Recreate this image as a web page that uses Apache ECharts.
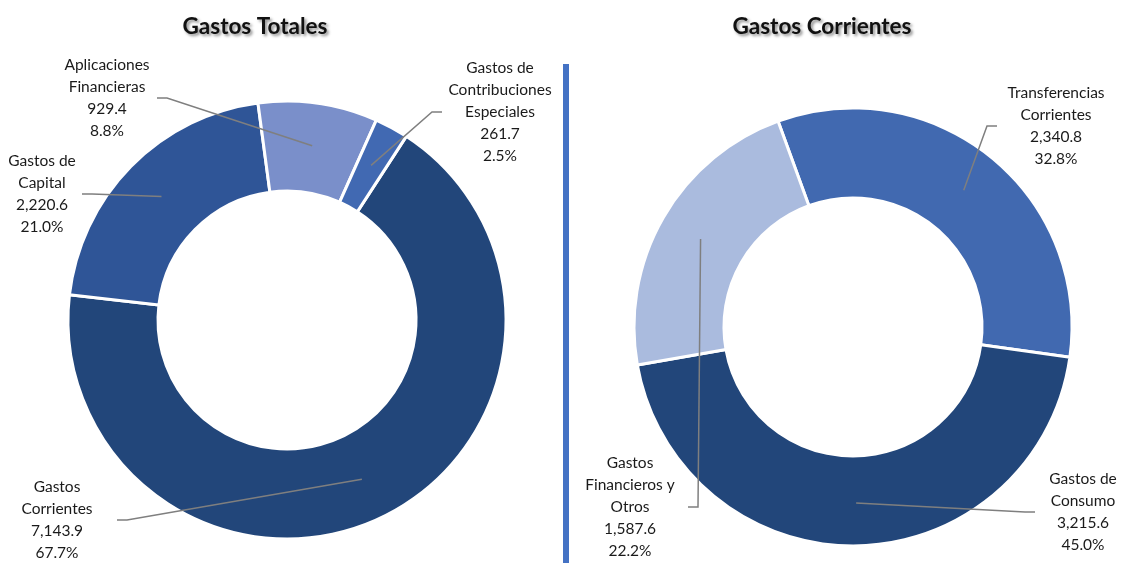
<!DOCTYPE html>
<html>
<head>
<meta charset="utf-8">
<script src="https://cdn.jsdelivr.net/npm/echarts@6/dist/echarts.min.js"></script>
<style>
html, body { margin: 0; padding: 0; background: #fff; }
#container { width: 1121px; height: 563px; }
</style>
</head>
<body>
<div id="container"></div>
<script>
// data
var totalNames = ['Gastos\nCorrientes', 'Gastos de\nCapital', 'Aplicaciones\nFinancieras', 'Gastos de\nContribuciones\nEspeciales'];
var totalValues = [7143.9, 2220.6, 929.4, 261.7];
var corrNames = ['Transferencias\nCorrientes', 'Gastos de\nConsumo', 'Gastos\nFinancieros y\nOtros'];
var corrValues = [2340.8, 3215.6, 1587.6];
var titles = ['Gastos Totales', 'Gastos Corrientes'];

// styles
var totalColors = ['#22467a', '#2f5597', '#7a8fca', '#4169b2'];
var corrColors = ['#4169b0', '#22467a', '#aabbde'];
// label centre x, centre y, offset of leader end from centre
var totalLabelPos = [[57, 520, 60], [42, 194, 40], [107, 98, 50], [500, 112, -58]];
var corrLabelPos = [[1056, 126, -59], [1083, 512, -48], [630, 507, 58]];

var font = 'Lato';
var dom = document.getElementById('container');
var chart = echarts.init(dom, null, { renderer: 'canvas' });

function toData(names, values, colors) {
    return names.map(function (n, i) {
        return { name: n, value: values[i], itemStyle: { color: colors ? colors[i] : 'transparent' } };
    });
}

function fmtLabel(params) {
    var v = params.value.toLocaleString('en-US', { minimumFractionDigits: 1, maximumFractionDigits: 1 });
    return params.name + '\n' + v + '\n' + params.percent.toFixed(1) + '%';
}

function makeLayout(pos) {
    return function (params) {
        var p = pos[params.dataIndex];
        var res = { x: p[0], y: p[1], align: 'center', verticalAlign: 'middle' };
        var pts = params.labelLinePoints;
        if (pts && pts.length) {
            var endX = p[0] + p[2];
            var dir = p[2] > 0 ? 1 : -1;
            res.labelLinePoints = [pts[0], [endX + dir * 10, p[1]], [endX, p[1]]];
        }
        return res;
    };
}

function ringSeries(center, names, values, colors, startAngle) {
    return {
        type: 'pie',
        z: 2,
        center: center,
        radius: [129, 219],
        startAngle: startAngle,
        clockwise: true,
        silent: true,
        animation: false,
        data: toData(names, values, colors),
        itemStyle: { borderColor: '#fff', borderWidth: 3 },
        label: { show: false },
        labelLine: { show: false }
    };
}

function labelSeries(center, names, values, pos, startAngle) {
    return {
        type: 'pie',
        z: 5,
        center: center,
        radius: [0, 176],
        startAngle: startAngle,
        clockwise: true,
        silent: true,
        animation: false,
        avoidLabelOverlap: false,
        data: toData(names, values, null),
        itemStyle: { borderWidth: 0 },
        label: {
            show: true,
            position: 'outside',
            formatter: fmtLabel,
            fontFamily: font,
            fontSize: 15.5,
            lineHeight: 22,
            color: '#1a1a1a',
            align: 'center'
        },
        labelLine: {
            show: true,
            length: 10,
            length2: 10,
            lineStyle: { color: '#7f7f7f', width: 1.5 }
        },
        labelLayout: makeLayout(pos)
    };
}

var titleStyle = {
    fontFamily: font,
    fontSize: 22.5,
    fontWeight: 'bold',
    color: '#111',
    textShadowColor: 'rgba(0,0,0,0.45)',
    textShadowBlur: 3,
    textShadowOffsetX: 2,
    textShadowOffsetY: 2
};

var option = {
    backgroundColor: '#fff',
    title: [
        { text: titles[0], left: 255, top: 15, textAlign: 'center', padding: 0, textStyle: titleStyle },
        { text: titles[1], left: 822, top: 15, textAlign: 'center', padding: 0, textStyle: titleStyle }
    ],
    graphic: [
        {
            type: 'rect',
            shape: { x: 563, y: 64, width: 6, height: 499 },
            style: { fill: '#4472c4' },
            silent: true
        }
    ],
    series: [
        ringSeries([287, 320], totalNames, totalValues, totalColors, 57),
        labelSeries([287, 320], totalNames, totalValues, totalLabelPos, 57),
        ringSeries([853, 327], corrNames, corrValues, corrColors, 110),
        labelSeries([853, 327], corrNames, corrValues, corrLabelPos, 110)
    ]
};

chart.setOption(option);
window.addEventListener('resize', chart.resize);
</script>
</body>
</html>
